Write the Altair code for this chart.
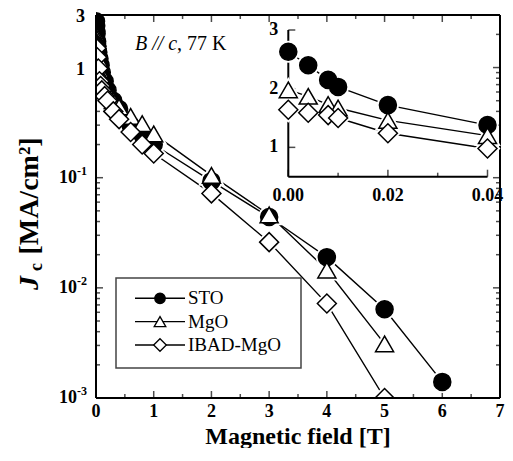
import altair as alt
import pandas as pd

SERIF = "Liberation Serif"
SERIES = ["STO", "MgO", "IBAD-MgO"]

# magnetic field [T]
FIELD_T = [0, 0.004, 0.008, 0.01, 0.02, 0.04, 0.06, 0.08, 0.1, 0.15, 0.2, 0.3, 0.4,
           0.6, 0.8, 1, 2, 3, 4, 5, 6]
# Jc [MA/cm2]
JC_STO = [2.63, 2.40, 2.15, 2.03, 1.72, 1.38, 1.2, 1.05, 0.9, 0.75, 0.62, 0.5, 0.42,
          0.3, 0.245, 0.2, 0.093, 0.044, 0.019, 0.0064, 0.0014]
JC_MGO = [1.98, 1.87, 1.73, 1.67, 1.46, 1.20, 0.95, 0.85, 0.78, 0.68, 0.6, 0.5, 0.44,
          0.36, 0.31, 0.25, 0.105, 0.046, 0.0145, 0.0031, None]
JC_IBAD = [1.64, 1.59, 1.55, 1.50, 1.24, 0.98, 0.75, 0.68, 0.62, 0.55, 0.5, 0.4, 0.34,
           0.26, 0.2, 0.166, 0.072, 0.026, 0.0072, 0.001, None]
INSET_MAX_FIELD = 0.04

X_MAJOR = [0, 1, 2, 3, 4, 5, 6, 7]
X_LABELS = ["0", "1", "2", "3", "4", "5", "6", "7"]
X_MINOR = [0.5, 1.5, 2.5, 3.5, 4.5, 5.5, 6.5]
Y_MAJOR = [0.001, 0.01, 0.1, 1]
Y_MINOR = [m * 10.0 ** e for e in (-3, -2, -1) for m in range(2, 10)] + [2]
Y_LABELED = [1, 3]
Y_LABELS = ["1", "3"]
POW_VALUES = [0.1, 0.01, 0.001]
POW_EXPS = ["-1", "-2", "-3"]
INSET_X_MAJOR = [0, 0.02, 0.04]
INSET_X_LABELS = ["0.00", "0.02", "0.04"]
INSET_X_MINOR = [0.01, 0.03]
INSET_Y_MAJOR = [1, 2, 3]
INSET_Y_LABELS = ["1", "2", "3"]

X_DOM = [0, 7]
Y_DOM = [0.001, 3]
XI_DOM = [0, 0.04]
YI_DOM = [0.5, 3]

rows = []
for name, vals in zip(SERIES, [JC_STO, JC_MGO, JC_IBAD]):
    for b, j in zip(FIELD_T, vals):
        if j is None:
            continue
        rows.append({"series": name, "B": b, "Jc": j})
df = pd.DataFrame(rows)
inset_df = df[df.B <= INSET_MAX_FIELD]
leg_df = pd.DataFrame({"series": SERIES, "idx": [0, 1, 2]})
one = pd.DataFrame({"k": [0]})

# layout: plot box 404 x 383 drawn inside a slightly larger view
PW, PH, TOP = 404, 383, 7
W, H = 409, PH + TOP

shape_scale = alt.Scale(domain=SERIES, range=["circle", "triangle-up", "diamond"])
fill_scale = alt.Scale(domain=SERIES, range=["black", "white", "white"])
size_scale = alt.Scale(domain=SERIES, range=[290, 360, 420])

XS = alt.Scale(domain=X_DOM, range=[0, PW], nice=False, zero=False)
YS = alt.Scale(type="log", domain=Y_DOM, range=[PH + TOP, TOP], nice=False)
XS_IN = alt.Scale(domain=XI_DOM, range=[192.3, 391.5], nice=False, zero=False)
YS_IN = alt.Scale(domain=YI_DOM, range=[161.7 + TOP, 15 + TOP], nice=False, zero=False)


def xf(field, sc):
    return alt.X(field, type="quantitative", scale=sc, axis=None)


def yf(field, sc):
    return alt.Y(field, type="quantitative", scale=sc, axis=None)


def ticks(values, xs, ys, side, length, at):
    d = alt.Chart(pd.DataFrame({"t": values, "at": [at] * len(values)}))
    if side in ("bottom", "top"):
        off = -length / 2 if side == "bottom" else length / 2
        return d.mark_tick(orient="vertical", size=length, thickness=1.5, color="black",
                           yOffset=off).encode(x=xf("t", xs), y=yf("at", ys))
    off = length / 2 if side == "left" else -length / 2
    return d.mark_tick(orient="horizontal", size=length, thickness=1.5, color="black",
                       xOffset=off).encode(y=yf("t", ys), x=xf("at", xs))


def labels(values, texts, xs, ys, side, at, size=18, **kw):
    d = alt.Chart(pd.DataFrame({"t": values, "at": [at] * len(values), "s": texts}))
    m = d.mark_text(font=SERIF, fontSize=size, fontWeight="bold", color="black", **kw)
    if side == "bottom":
        return m.encode(x=xf("t", xs), y=yf("at", ys), text="s:N")
    return m.encode(y=yf("t", ys), x=xf("at", xs), text="s:N")


def series_layers(data, xs, ys, clip):
    c = alt.Chart(data)
    ln = c.mark_line(color="black", strokeWidth=1.4, clip=clip).encode(
        x=xf("B", xs), y=yf("Jc", ys), detail="series:N")
    halo = c.mark_point(filled=True, fill="white", stroke="white", strokeWidth=5,
                        opacity=1, clip=clip).encode(
        x=xf("B", xs), y=yf("Jc", ys),
        shape=alt.Shape("series:N", scale=shape_scale, legend=None),
        size=alt.Size("series:N", scale=size_scale, legend=None))
    mk = c.mark_point(filled=True, stroke="black", strokeWidth=1.5, opacity=1,
                      fillOpacity=1, clip=clip).encode(
        x=xf("B", xs), y=yf("Jc", ys),
        shape=alt.Shape("series:N", scale=shape_scale, legend=None),
        fill=alt.Fill("series:N", scale=fill_scale, legend=None),
        size=alt.Size("series:N", scale=size_scale, legend=None))
    return [ln, halo, mk]


def text_kw(size, bold=True, **kw):
    d = dict(font=SERIF, fontSize=size, color="black")
    if bold:
        d["fontWeight"] = "bold"
    d.update(kw)
    return d


# ---- main frame (box), ticks, labels ----
x0, x1 = X_DOM
y0, y1 = Y_DOM
frame_df = pd.DataFrame({"x": [x0, x0, x0, x1], "x2": [x1, x1, x0, x1],
                         "y": [y0, y1, y0, y0], "y2": [y0, y1, y1, y1]})
frame = alt.Chart(frame_df).mark_rule(color="black", strokeWidth=2).encode(
    x=xf("x", XS), x2="x2:Q", y=yf("y", YS), y2="y2:Q")

main_ticks = [
    ticks(X_MAJOR, XS, YS, "bottom", 7, y0),
    ticks(X_MINOR, XS, YS, "bottom", 4, y0),
    ticks(X_MAJOR, XS, YS, "top", 7, y1),
    ticks(X_MINOR, XS, YS, "top", 4, y1),
    ticks(Y_MAJOR, XS, YS, "left", 7, x0),
    ticks(Y_MINOR, XS, YS, "left", 4, x0),
    ticks(Y_MAJOR, XS, YS, "right", 7, x1),
    ticks(Y_MINOR, XS, YS, "right", 4, x1),
]
x_lab = labels(X_MAJOR, X_LABELS, XS, YS, "bottom", y0, align="center", baseline="top", dy=5)
y_lab = labels(Y_LABELED, Y_LABELS, XS, YS, "left", x0, align="right", baseline="middle",
               dx=-11, dy=2)
pow_base = labels(POW_VALUES, ["10"] * 3, XS, YS, "left", x0, align="right",
                  baseline="middle", dx=-19)
pow_exp = labels(POW_VALUES, POW_EXPS, XS, YS, "left", x0, size=12, align="left",
                 baseline="middle", dx=-19, dy=-7)
x_title = labels([sum(X_DOM) / 2], ["Magnetic field [T]"], XS, YS, "bottom", y0, size=24,
                 align="center", baseline="alphabetic", dy=46)

main_series = series_layers(df, XS, YS, True)

# ---- inset ----
xi0, xi1 = XI_DOM
yi0, yi1 = YI_DOM
in_frame_df = pd.DataFrame({"x": [xi0, xi0], "x2": [xi1, xi0],
                            "y": [yi0, yi0], "y2": [yi0, yi1]})
in_frame = alt.Chart(in_frame_df).mark_rule(color="black", strokeWidth=2).encode(
    x=xf("x", XS_IN), x2="x2:Q", y=yf("y", YS_IN), y2="y2:Q")
in_ticks = [
    ticks(INSET_X_MAJOR, XS_IN, YS_IN, "bottom", 7, yi0),
    ticks(INSET_X_MINOR, XS_IN, YS_IN, "bottom", 4, yi0),
    ticks(INSET_Y_MAJOR, XS_IN, YS_IN, "left", 7, xi0),
]
in_xlab = labels(INSET_X_MAJOR, INSET_X_LABELS, XS_IN, YS_IN, "bottom", yi0,
                 align="center", baseline="top", dy=10)
in_ylab = labels(INSET_Y_MAJOR, INSET_Y_LABELS, XS_IN, YS_IN, "left", xi0,
                 align="right", baseline="middle", dx=-10)
inset_series = series_layers(inset_df, XS_IN, YS_IN, False)

# ---- legend ----
oc = alt.Chart(one)
ly = alt.Scale(domain=[0, 2], range=[283.3 + TOP, 330 + TOP])
lbase = alt.Chart(leg_df)
leg_box = oc.mark_rect(fill="white", stroke="#444444", strokeWidth=1.5).encode(
    x=alt.value(20), x2=alt.value(205), y=alt.value(263 + TOP), y2=alt.value(353 + TOP))
leg_rules = lbase.mark_rule(color="black", strokeWidth=1.4).encode(
    x=alt.value(39), x2=alt.value(89), y=yf("idx", ly))
leg_marks = lbase.mark_point(filled=True, stroke="black", strokeWidth=1.3, opacity=1,
                             fillOpacity=1).encode(
    x=alt.value(64), y=yf("idx", ly),
    shape=alt.Shape("series:N", scale=shape_scale, legend=None),
    fill=alt.Fill("series:N", scale=fill_scale, legend=None),
    size=alt.Size("series:N", scale=alt.Scale(domain=SERIES, range=[110, 160, 190]),
                  legend=None))
leg_text = lbase.mark_text(**text_kw(19, bold=False, align="left", baseline="middle")).encode(
    x=alt.value(92), y=yf("idx", ly), text="series:N")

# ---- annotations ----
ann1 = oc.mark_text(**text_kw(20, bold=False, text="B // c", align="left",
                              baseline="alphabetic", fontStyle="italic")).encode(
    x=alt.value(39), y=alt.value(35 + TOP))
ann2 = oc.mark_text(**text_kw(20, bold=False, text=", 77 K", align="left",
                              baseline="alphabetic")).encode(
    x=alt.value(81), y=alt.value(35 + TOP))
yt1 = oc.mark_text(**text_kw(28, text="J", angle=270, align="center", baseline="middle",
                             fontStyle="italic")).encode(x=alt.value(-66), y=alt.value(268 + TOP))
yt2 = oc.mark_text(**text_kw(18, text="c", angle=270, align="center",
                             baseline="middle")).encode(x=alt.value(-59), y=alt.value(252 + TOP))
yt3 = oc.mark_text(**text_kw(28, text="[MA/cm²]", angle=270, align="center",
                             baseline="middle")).encode(x=alt.value(-66), y=alt.value(181 + TOP))

layers = (main_ticks + main_series + [frame, x_lab, y_lab, pow_base, pow_exp, x_title,
                                      in_frame] + in_ticks + [in_xlab, in_ylab]
          + inset_series
          + [leg_box, leg_rules, leg_marks, leg_text, ann1, ann2, yt1, yt2, yt3])

chart = alt.layer(*layers).resolve_scale(
    x="independent", y="independent", shape="independent", fill="independent",
    size="independent",
).properties(
    width=W, height=H, autosize=alt.AutoSizeParams(type="none"),
    padding={"left": 88, "top": 0, "right": 0, "bottom": 50},
).configure_view(stroke=None)

chart.save("out.html", embed_options={"renderer": "svg", "actions": False})
